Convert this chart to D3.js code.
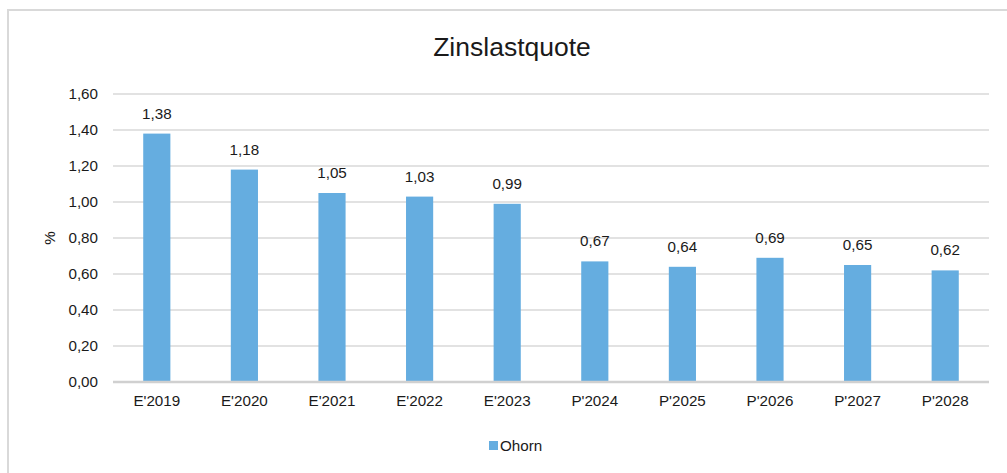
<!DOCTYPE html>
<html>
<head>
<meta charset="utf-8">
<script src="https://cdn.jsdelivr.net/npm/d3@7"></script>
<style>
  body { margin: 0; background: #fff; }
  svg { display: block; font-family: "Liberation Sans", Arial, sans-serif; }
</style>
</head>
<body>
<svg id="chart" width="1007" height="473"></svg>
<script>
// chart data
var categories = ["E'2019", "E'2020", "E'2021", "E'2022", "E'2023", "P'2024", "P'2025", "P'2026", "P'2027", "P'2028"];
var values = [1.38, 1.18, 1.05, 1.03, 0.99, 0.67, 0.64, 0.69, 0.65, 0.62];
var yTicks = [0, 0.2, 0.4, 0.6, 0.8, 1.0, 1.2, 1.4, 1.6];
var seriesName = "Ohorn";
var title = "Zinslastquote";

var width = 1007, height = 473;
var margin = {top: 94, left: 113, right: 18, bottom: 91};
var barColor = "#65ade0";
var fontSize = 15.2;
var fmt = function(v) { return d3.format(".2f")(v).replace(".", ","); };

var svg = d3.select("#chart");

// outer frame (runs off the right/bottom edge like the original)
svg.append("rect")
    .attr("x", 8).attr("y", 10)
    .attr("width", 1020).attr("height", 500)
    .attr("fill", "none")
    .attr("stroke", "#d9d9d9")
    .attr("stroke-width", 2);

var x = d3.scaleBand()
    .domain(categories)
    .range([margin.left, width - margin.right])
    .paddingInner(0.69)
    .paddingOuter(0.345);

var y = d3.scaleLinear()
    .domain([0, 1.6])
    .range([height - margin.bottom, margin.top]);

// gridlines
svg.append("g")
    .selectAll("line")
    .data(yTicks.filter(function(t) { return t > 0; }))
    .enter()
    .append("line")
    .attr("x1", margin.left)
    .attr("x2", width - margin.right)
    .attr("y1", function(d) { return y(d); })
    .attr("y2", function(d) { return y(d); })
    .attr("stroke", "#d9d9d9")
    .attr("stroke-width", 1.5);

// y axis labels
var yAxis = d3.axisLeft(y)
    .tickValues(yTicks)
    .tickFormat(fmt)
    .tickSize(0)
    .tickPadding(15);

svg.append("g")
    .attr("transform", "translate(" + margin.left + ",0)")
    .call(yAxis)
    .call(function(g) { g.select(".domain").remove(); })
    .selectAll("text")
    .attr("font-size", fontSize)
    .attr("font-family", "Liberation Sans, Arial, sans-serif")
    .attr("fill", "#1a1a1a");

// bars
svg.append("g")
    .selectAll("rect")
    .data(values)
    .enter()
    .append("rect")
    .attr("x", function(d, i) { return x(categories[i]); })
    .attr("width", x.bandwidth())
    .attr("y", function(d) { return y(d); })
    .attr("height", function(d) { return y(0) - y(d); })
    .attr("fill", barColor);

// value labels
svg.append("g")
    .selectAll("text")
    .data(values)
    .enter()
    .append("text")
    .attr("x", function(d, i) { return x(categories[i]) + x.bandwidth() / 2; })
    .attr("y", function(d) { return y(d) - 15; })
    .attr("text-anchor", "middle")
    .attr("font-size", fontSize)
    .attr("fill", "#1a1a1a")
    .text(fmt);

// baseline / x axis
var xAxis = d3.axisBottom(x).tickSize(0).tickPadding(13);
svg.append("g")
    .attr("transform", "translate(0," + y(0) + ")")
    .call(xAxis)
    .call(function(g) {
      g.select(".domain").attr("stroke", "#d0d0d0").attr("stroke-width", 2.5)
        .attr("d", "M" + margin.left + ",0H" + (width - margin.right));
    })
    .selectAll("text")
    .attr("font-size", fontSize)
    .attr("font-family", "Liberation Sans, Arial, sans-serif")
    .attr("fill", "#1a1a1a");

// title
svg.append("text")
    .attr("x", 512)
    .attr("y", 56)
    .attr("text-anchor", "middle")
    .attr("font-size", 26.5)
    .attr("fill", "#1a1a1a")
    .text(title);

// y axis title
svg.append("text")
    .attr("transform", "translate(55," + ((y(0) + y(1.6)) / 2) + ") rotate(-90)")
    .attr("text-anchor", "middle")
    .attr("font-size", fontSize)
    .attr("fill", "#1a1a1a")
    .text("%");

// legend
var legend = svg.append("g").attr("transform", "translate(489,441)");
legend.append("rect")
    .attr("width", 9).attr("height", 9)
    .attr("fill", barColor);
legend.append("text")
    .attr("x", 11).attr("y", 9.5)
    .attr("font-size", fontSize)
    .attr("fill", "#1a1a1a")
    .text(seriesName);
</script>
</body>
</html>
